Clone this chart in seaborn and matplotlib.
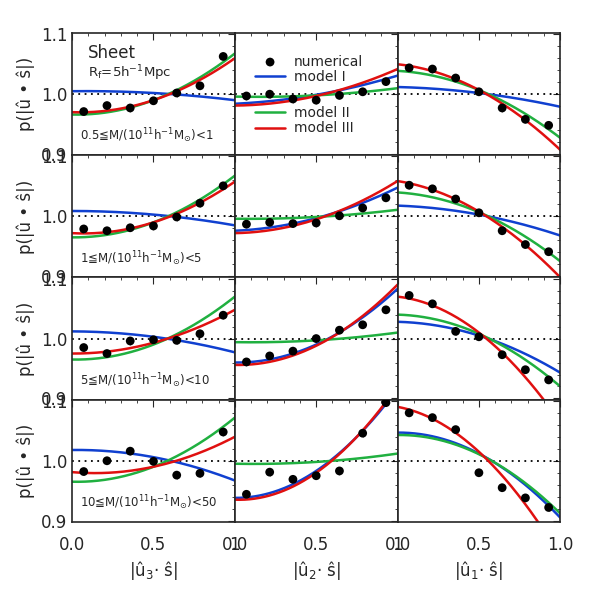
import numpy as np
import pandas as pd
import seaborn as sns
import matplotlib.pyplot as plt
from matplotlib.ticker import MultipleLocator

sns.set_style("white")
plt.rcParams["font.family"] = ["DejaVu Sans"]

# bin centres of the numerical points
x_pts = [0.0714, 0.2143, 0.3571, 0.5, 0.6429, 0.7857, 0.9286]

# numerical points, rows = mass bins, cols = u3, u2, u1
pts = [
    [[0.971, 0.981, 0.977, 0.989, 1.002, 1.014, 1.063],
     [0.997, 1.000, 0.992, 0.990, 0.998, 1.004, 1.021],
     [1.044, 1.042, 1.027, 1.004, 0.977, 0.958, 0.948]],
    [[0.979, 0.976, 0.981, 0.984, 0.999, 1.022, 1.051],
     [0.987, 0.990, 0.988, 0.989, 1.001, 1.014, 1.031],
     [1.052, 1.046, 1.029, 1.006, 0.976, 0.953, 0.941]],
    [[0.985, 0.975, 0.996, 0.998, 0.997, 1.008, 1.039],
     [0.961, 0.971, 0.979, 1.000, 1.014, 1.023, 1.048],
     [1.072, 1.058, 1.012, 1.003, 0.973, 0.948, 0.931]],
    [[0.982, 1.000, 1.016, 0.999, 0.976, 0.979, 1.048],
     [0.944, 0.981, 0.969, 0.975, 0.983, 1.046, 1.097],
     [1.080, 1.072, 1.052, 0.980, 0.955, 0.938, 0.922]],
]
err = 0.006

# model curves read at x = 0, 0.5, 1 (blue, green, red)
model_x = [0.0, 0.5, 1.0]
model_I = [
    [[1.005, 1.002, 0.990], [0.984, 0.999, 1.031], [1.012, 1.002, 0.979]],
    [[1.009, 1.003, 0.985], [0.976, 0.997, 1.048], [1.018, 1.003, 0.968]],
    [[1.012, 1.003, 0.977], [0.960, 0.990, 1.083], [1.028, 1.005, 0.943]],
    [[1.018, 1.006, 0.967], [0.938, 0.983, 1.120], [1.047, 1.012, 0.905]],
]
model_II = [
    [[0.966, 0.990, 1.068], [0.996, 0.998, 1.010], [1.039, 1.007, 0.927]],
    [[0.965, 0.990, 1.068], [0.996, 0.999, 1.011], [1.040, 1.007, 0.925]],
    [[0.965, 0.990, 1.070], [0.994, 0.997, 1.010], [1.040, 1.008, 0.920]],
    [[0.965, 0.990, 1.072], [0.995, 0.998, 1.012], [1.043, 1.011, 0.912]],
]
model_III = [
    [[0.970, 0.990, 1.060], [0.981, 0.997, 1.042], [1.050, 1.007, 0.907]],
    [[0.972, 0.990, 1.058], [0.972, 0.995, 1.059], [1.059, 1.008, 0.898]],
    [[0.975, 0.993, 1.048], [0.956, 0.988, 1.090], [1.070, 1.010, 0.860]],
    [[0.981, 0.990, 1.040], [0.935, 0.980, 1.125], [1.090, 1.015, 0.840]],
]

mass_labels = [
    r"0.5≦M/(10$^{11}$h$^{-1}$M$_{\odot}$)<1",
    r"1≦M/(10$^{11}$h$^{-1}$M$_{\odot}$)<5",
    r"5≦M/(10$^{11}$h$^{-1}$M$_{\odot}$)<10",
    r"10≦M/(10$^{11}$h$^{-1}$M$_{\odot}$)<50",
]
x_labels = [r"|û$_3$· ŝ|", r"|û$_2$· ŝ|", r"|û$_1$· ŝ|"]

fig, axes = plt.subplots(4, 3, figsize=(5.91, 5.91), dpi=100)
fig.subplots_adjust(left=0.122, right=0.948, top=0.944, bottom=0.117,
                    wspace=0, hspace=0)

xs = np.linspace(0, 1, 200)
models = [(model_I, "#1040d0", "model I"),
          (model_II, "#20b040", "model II"),
          (model_III, "#e01010", "model III")]

for r in range(4):
    for c in range(3):
        ax = axes[r, c]
        ax.axhline(1.0, color="black", ls=(0, (1, 2.5)), lw=1.3)
        for vals, col, lab in models:
            coef = np.polyfit(model_x, vals[r][c], 2)
            df = pd.DataFrame({"x": xs, "y": np.polyval(coef, xs)})
            sns.lineplot(data=df, x="x", y="y", ax=ax, color=col, lw=1.8,
                         label=lab if (r == 0 and c == 1) else None, legend=False)
        ax.errorbar(x_pts, pts[r][c], yerr=err, fmt="none", ecolor="gray", lw=0.8)
        sns.scatterplot(x=x_pts, y=pts[r][c], ax=ax, color="black", s=40,
                        edgecolor="none", zorder=5,
                        label="numerical" if (r == 0 and c == 1) else None, legend=False)
        ax.set_xlim(0, 1)
        ax.set_ylim(0.898, 1.102)
        ax.xaxis.set_major_locator(MultipleLocator(0.5))
        ax.xaxis.set_minor_locator(MultipleLocator(0.1))
        ax.yaxis.set_major_locator(MultipleLocator(0.1))
        ax.yaxis.set_minor_locator(MultipleLocator(0.02))
        ax.tick_params(which="both", direction="in", top=True, right=True,
                       labelsize=12)
        ax.tick_params(which="major", length=5)
        ax.tick_params(which="minor", length=2.5)
        for s in ax.spines.values():
            s.set_linewidth(1.2)
        ax.set_xlabel("")
        ax.set_ylabel("")
        if c == 0:
            ax.set_yticks([0.9, 1.0, 1.1])
            ax.set_yticklabels(["0.9", "1.0", "1.1"])
            ax.set_ylabel("p(|û • ŝ|)", fontsize=12)
            ax.text(0.05, 0.12, mass_labels[r], transform=ax.transAxes, fontsize=8.5)
        else:
            ax.set_yticklabels([])
        if r == 3:
            ax.set_xticks([0, 0.5, 1.0])
            ax.set_xticklabels(["0.0", "0.5", "1.0" if c == 2 else "1"])
            ax.tick_params(axis="x", pad=10)
            ax.set_xlabel(x_labels[c], fontsize=12)
        else:
            ax.set_xticklabels([])

axes[0, 0].text(0.1, 0.80, "Sheet", transform=axes[0, 0].transAxes, fontsize=12)
axes[0, 0].text(0.1, 0.64, r"R$_{\rm f}$=5h$^{-1}$Mpc", transform=axes[0, 0].transAxes, fontsize=9.5)

h, l = axes[0, 1].get_legend_handles_labels()
hd = dict(zip(l, h))
kw = dict(loc="upper left", frameon=False, fontsize=10, handlelength=2.2,
          labelspacing=0.1, borderpad=0, handletextpad=0.6)
leg1 = axes[0, 1].legend([hd["numerical"], hd["model I"]], ["numerical", "model I"],
                         bbox_to_anchor=(0.08, 0.88), **kw)
axes[0, 1].add_artist(leg1)
axes[0, 1].legend([hd["model II"], hd["model III"]], ["model II", "model III"],
                  bbox_to_anchor=(0.08, 0.46), **kw)

plt.savefig("out.png", dpi=100)
